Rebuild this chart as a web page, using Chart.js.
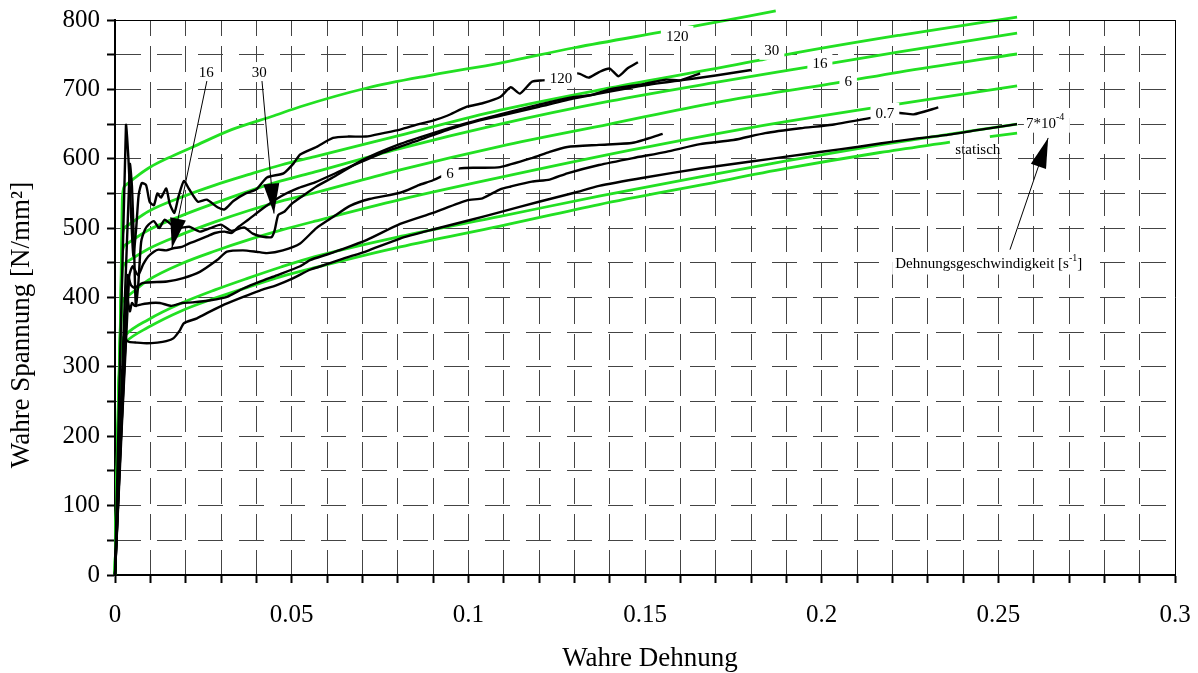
<!DOCTYPE html>
<html><head><meta charset="utf-8">
<script src="https://cdn.jsdelivr.net/npm/chart.js@4/dist/chart.umd.min.js"></script>
<style>html,body{margin:0;padding:0;background:#fff;}canvas{display:block;}</style>
</head><body>
<canvas id="c" width="1198" height="673"></canvas>
<script>
// ---------- data (true strain, true stress N/mm²) ----------
const green120 = [[0,0],[0.0014,325],[0.0018,450],[0.0021,545],[0.003,562],[0.006,574],[0.01,588],[0.015,601],[0.022,617],[0.033,642],[0.045,662],[0.0524,675],[0.0713,702],[0.09,721],[0.109,738],[0.13,760],[0.154,782],[0.164,791],[0.187,813]];
const green30 = [[0,0],[0.0014,325],[0.0018,430],[0.0021,490],[0.003,502],[0.0094,524],[0.019,545],[0.0283,562],[0.0377,577],[0.047,591],[0.0566,603],[0.08,633],[0.109,670],[0.14,702],[0.1825,742],[0.19,750],[0.222,778],[0.2553,804]];
const green16 = [[0,0],[0.0014,325],[0.0018,420],[0.0021,465],[0.003,476],[0.0094,497],[0.0189,518],[0.0283,536],[0.0377,553],[0.047,568],[0.0566,581],[0.08,614],[0.109,650],[0.14,683],[0.17,710],[0.196,732],[0.222,754],[0.2553,781]];
const green6 = [[0,0],[0.0014,325],[0.0018,400],[0.0021,440],[0.003,450],[0.0094,470],[0.0189,491],[0.0283,509],[0.0377,525],[0.047,539],[0.0566,551],[0.0807,584],[0.109,618],[0.14,650],[0.17,681],[0.205,710],[0.222,725],[0.2553,751]];
const green07 = [[0,0],[0.0014,325],[0.0018,370],[0.0021,393],[0.003,400],[0.0094,425],[0.0189,449],[0.0283,467],[0.0377,483],[0.047,497],[0.0566,510],[0.0807,541],[0.109,573],[0.1466,613],[0.18,645],[0.214,673],[0.222,679],[0.2553,705]];
const green7e4 = [[0,0],[0.0014,322],[0.0019,338],[0.003,346],[0.0094,368],[0.0189,392],[0.0283,411],[0.0377,428],[0.047,444],[0.0566,459],[0.0807,488],[0.109,517],[0.137,546],[0.1656,574],[0.19,597],[0.2165,620],[0.2553,650]];
const greenStatic = [[0,0],[0.0014,318],[0.0019,329],[0.003,336],[0.0094,357],[0.0189,381],[0.0283,399],[0.0377,415],[0.047,430],[0.0566,443],[0.0807,473],[0.109,503],[0.137,534],[0.1656,562],[0.19,586],[0.2165,609],[0.2363,624],[0.242,null],[0.2476,632],[0.2553,637]];

const black120 = [[0,0],[0.0031,648],[0.0038,600],[0.0045,525],[0.0052,460],[0.006,500],[0.0067,548],[0.0076,565],[0.0088,562],[0.0098,538],[0.011,533],[0.012,550],[0.013,544],[0.0145,557],[0.0155,535],[0.0168,522],[0.018,546],[0.0195,568],[0.021,556],[0.0235,538],[0.026,541],[0.029,530],[0.031,527],[0.0335,539],[0.037,550],[0.04,556],[0.043,573],[0.0477,579],[0.0505,593],[0.0524,606],[0.057,617],[0.0617,630],[0.066,632],[0.071,632],[0.076,637],[0.0807,642],[0.086,650],[0.09,655],[0.094,662],[0.0996,675],[0.104,680],[0.109,689],[0.112,703],[0.1146,694],[0.118,711],[0.121,713],[0.124,714],[0.131,723],[0.134,717],[0.137,725],[0.14,730],[0.1425,719],[0.145,730],[0.148,739]];
const black30 = [[0,0],[0.0042,592],[0.0048,560],[0.0054,470],[0.0059,388],[0.0066,420],[0.0074,480],[0.0085,498],[0.0095,505],[0.011,510],[0.0125,500],[0.014,512],[0.016,505],[0.018,500],[0.021,502],[0.024,495],[0.027,500],[0.03,505],[0.033,496],[0.0365,501],[0.039,492],[0.0415,488],[0.0443,487],[0.0452,497],[0.0462,519],[0.048,524],[0.05,535],[0.053,546],[0.057,560],[0.062,574],[0.07,598],[0.08,620],[0.09,637],[0.1,652],[0.109,664],[0.12,678],[0.13,689],[0.135,692],[0.14,700],[0.15,708],[0.156,714],[0.16,713],[0.1656,723]];
const black16 = [[0,0],[0.004,430],[0.005,445],[0.0065,432],[0.008,448],[0.0094,459],[0.011,466],[0.0123,469],[0.0145,468],[0.0165,471],[0.0189,473],[0.021,478],[0.0236,483],[0.026,488],[0.0283,493],[0.031,495],[0.033,493],[0.035,502],[0.0377,512],[0.042,529],[0.047,546],[0.052,558],[0.0566,566],[0.065,585],[0.075,607],[0.085,625],[0.095,643],[0.103,655],[0.109,662],[0.12,675],[0.13,687],[0.14,697],[0.15,706],[0.16,713],[0.17,720],[0.18,728]];
const black6 = [[0,0],[0.0036,432],[0.0045,418],[0.0055,414],[0.0079,421],[0.0147,423],[0.0193,428],[0.024,437],[0.0289,454],[0.0317,466],[0.0362,468],[0.04,466],[0.043,464],[0.0475,468],[0.0524,478],[0.057,500],[0.0617,516],[0.0665,532],[0.072,542],[0.0807,551],[0.086,562],[0.09,569],[0.0976,586],[0.103,587],[0.109,588],[0.118,601],[0.123,610],[0.128,617],[0.137,620],[0.1466,623],[0.155,636]];
const black07 = [[0,0],[0.0035,398],[0.0042,380],[0.0048,392],[0.0056,388],[0.0075,390],[0.01,392],[0.0127,392],[0.016,388],[0.019,392],[0.022,393],[0.027,396],[0.0317,401],[0.0363,413],[0.041,423],[0.0458,432],[0.0524,445],[0.0552,454],[0.06,462],[0.0646,470],[0.0713,483],[0.0807,506],[0.09,522],[0.0996,540],[0.104,543],[0.109,556],[0.112,560],[0.118,567],[0.123,570],[0.128,579],[0.137,591],[0.1466,601],[0.156,610],[0.1656,621],[0.175,627],[0.184,637],[0.194,644],[0.203,649],[0.214,659],[0.222,666],[0.226,664],[0.233,674]];
const blackLow = [[0,0],[0.003,338],[0.004,336],[0.006,335],[0.009,334],[0.012,335],[0.0145,337],[0.0165,341],[0.0184,353],[0.0195,363],[0.0232,370],[0.027,380],[0.031,390],[0.0363,401],[0.041,410],[0.0458,418],[0.0505,428],[0.0552,440],[0.06,448],[0.0646,456],[0.0713,467],[0.0807,485],[0.09,498],[0.1,511],[0.109,523],[0.12,538],[0.13,551],[0.137,561],[0.15,573],[0.1656,586],[0.18,596],[0.19,603],[0.2,610],[0.21,617],[0.2165,622],[0.225,628],[0.235,634],[0.245,642],[0.2553,650]];

const xTitle = 'Wahre Dehnung';
const yTitle = 'Wahre Spannung [N/mm²]';
// annotation texts
const boxedLabels = ['120','30','16','6','0.7','120','6','16','30'];
const boxedAt = [[0.1591,777],[0.1859,757],[0.1995,738],[0.2075,712],[0.2179,666],[0.1262,717],[0.0948,580],[0.0258,725],[0.0408,725]];
const staticLabel = 'statisch';
const rateLabel = ['7*10','-4'];
const noteLabel = ['Dehnungsgeschwindigkeit [s','-1',']'];

// ---------- chart ----------
const SERIF = '"Liberation Serif", "Times New Roman", serif';
const toPts = a => a.map(p => ({x: p[0], y: p[1]}));
const GREEN = '#22e022';
function greenDs(d){ return {data: toPts(d), borderColor: GREEN, borderWidth: 2.8, showLine: true, pointRadius: 0, cubicInterpolationMode: 'monotone', spanGaps: false, clip: false}; }
function blackDs(d){ return {data: toPts(d), borderColor: '#000', borderWidth: 2.4, showLine: true, pointRadius: 0, tension: 0.2, clip: false}; }

const datasets = [
  blackDs(black120), blackDs(black30), blackDs(black16), blackDs(black6), blackDs(black07), blackDs(blackLow),
  greenDs(green120), greenDs(green30), greenDs(green16), greenDs(green6), greenDs(green07), greenDs(green7e4), greenDs(greenStatic)
];

function arrow(ctx, x1, y1, x2, y2, len, hw){
  ctx.save();
  ctx.strokeStyle = '#000'; ctx.fillStyle = '#000'; ctx.lineWidth = 1;
  ctx.beginPath(); ctx.moveTo(x1, y1); ctx.lineTo(x2, y2); ctx.stroke();
  const a = Math.atan2(y2 - y1, x2 - x1);
  const bx = x2 - len * Math.cos(a), by = y2 - len * Math.sin(a);
  ctx.beginPath(); ctx.moveTo(x2, y2);
  ctx.lineTo(bx + hw * Math.sin(a), by - hw * Math.cos(a));
  ctx.lineTo(bx - hw * Math.sin(a), by + hw * Math.cos(a));
  ctx.closePath(); ctx.fill();
  ctx.restore();
}

const annot = {
  id: 'annot',
  afterDatasetsDraw(chart){
    const ctx = chart.ctx, xs = chart.scales.x, ys = chart.scales.y;
    const P = (x, y) => [xs.getPixelForValue(x), ys.getPixelForValue(y)];
    ctx.save();
    ctx.font = '15px ' + SERIF;
    ctx.textBaseline = 'middle'; ctx.textAlign = 'center';
    boxedLabels.forEach((t, i) => {
      const [px, py] = P(boxedAt[i][0], boxedAt[i][1]);
      const w = ctx.measureText(t).width;
      ctx.fillStyle = '#fff';
      ctx.fillRect(px - w / 2 - 5, py - 10, w + 10, 20);
      ctx.fillStyle = '#000';
      ctx.fillText(t, px, py + 1);
    });
    // statisch
    let [sx, sy] = P(0.2442, 612);
    ctx.fillText(staticLabel, sx, sy);
    // 7*10^-4
    let [rx, ry] = P(0.2578, 652);
    ctx.textAlign = 'left';
    const w1 = ctx.measureText(rateLabel[0]).width;
    ctx.fillStyle = '#fff'; ctx.fillRect(rx - 2, ry - 12, w1 + 16, 22); ctx.fillStyle = '#000';
    ctx.fillText(rateLabel[0], rx, ry + 1);
    ctx.font = '10px ' + SERIF;
    ctx.fillText(rateLabel[1], rx + w1, ry - 5);
    // Dehnungsgeschwindigkeit [s^-1]
    ctx.font = '15px ' + SERIF;
    let [nx, ny] = P(0.2208, 449);
    const a1 = ctx.measureText(noteLabel[0]).width;
    ctx.font = '10px ' + SERIF;
    const a2 = ctx.measureText(noteLabel[1]).width;
    ctx.font = '15px ' + SERIF;
    const a3 = ctx.measureText(noteLabel[2]).width;
    ctx.fillStyle = '#fff'; ctx.fillRect(nx - 3, ny - 11, a1 + a2 + a3 + 6, 22); ctx.fillStyle = '#000';
    ctx.fillText(noteLabel[0], nx, ny + 1);
    ctx.font = '10px ' + SERIF;
    ctx.fillText(noteLabel[1], nx + a1, ny - 5);
    ctx.font = '15px ' + SERIF;
    ctx.fillText(noteLabel[2], nx + a1 + a2, ny + 1);
    // arrows
    let p1 = P(0.0260, 712), p2 = P(0.0161, 471);
    arrow(ctx, p1[0], p1[1], p2[0], p2[1], 30, 8);
    p1 = P(0.0416, 712); p2 = P(0.0450, 521);
    arrow(ctx, p1[0], p1[1], p2[0], p2[1], 30, 8);
    p1 = P(0.2533, 469); p2 = P(0.2641, 630);
    arrow(ctx, p1[0], p1[1], p2[0], p2[1], 30, 8);
    ctx.restore();
  },
  afterDraw(chart){
    const ctx = chart.ctx, ca = chart.chartArea;
    ctx.save();
    ctx.strokeStyle = '#000'; ctx.lineWidth = 1;
    ctx.beginPath();
    ctx.moveTo(ca.left, ca.top + 0.5); ctx.lineTo(ca.right + 0.5, ca.top + 0.5); ctx.lineTo(ca.right + 0.5, ca.bottom);
    ctx.stroke();
    ctx.fillStyle = '#000';
    ctx.font = '27px ' + SERIF;
    ctx.textAlign = 'center'; ctx.textBaseline = 'middle';
    ctx.fillText(xTitle, (ca.left + ca.right) / 2 + 5, 659);
    ctx.translate(22, 325);
    ctx.rotate(-Math.PI / 2);
    ctx.fillText(yTitle, 0, 0);
    ctx.restore();
  }
};

new Chart(document.getElementById('c'), {
  type: 'scatter',
  data: { datasets },
  options: {
    responsive: false, animation: false, devicePixelRatio: 1,
    layout: { padding: { left: 0, right: 23, top: 20, bottom: 0 } },
    plugins: { legend: { display: false }, tooltip: { enabled: false } },
    elements: { point: { radius: 0 } },
    scales: {
      x: {
        type: 'linear', min: 0, max: 0.3,
        afterFit: s => { s.height = 98; s.paddingLeft = 0; s.paddingRight = 0; },
        ticks: { stepSize: 0.01, autoSkip: false, maxRotation: 0, minRotation: 0, padding: 17, color: '#000',
          font: { family: SERIF, size: 25 },
          callback: v => { const k = Math.round(v * 100); return k % 5 === 0 ? String(+(k / 100).toFixed(2)) : ''; } },
        grid: { color: '#444', lineWidth: 1, tickLength: 8, tickColor: '#000', tickWidth: 2 },
        border: { display: true, color: '#000', width: 2, dash: [26, 10], dashOffset: 10 }
      },
      y: {
        type: 'linear', min: 0, max: 800,
        afterFit: s => { s.width = 115; s.paddingTop = 0; s.paddingBottom = 0; },
        ticks: { stepSize: 50, autoSkip: false, padding: 7, color: '#000',
          font: { family: SERIF, size: 25 },
          callback: v => (Math.round(v) % 100 === 0 ? String(Math.round(v)) : '') },
        grid: { color: '#444', lineWidth: 1, tickLength: 8, tickColor: '#000', tickWidth: 2 },
        border: { display: true, color: '#000', width: 2, dash: [25, 16], dashOffset: 0 }
      }
    }
  },
  plugins: [annot]
});
</script>
</body></html>
